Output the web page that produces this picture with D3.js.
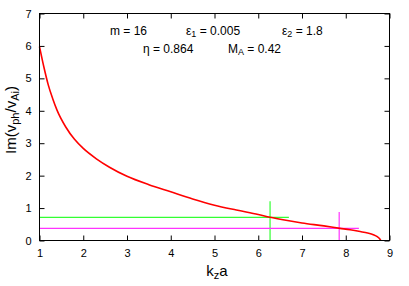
<!DOCTYPE html>
<meta charset="utf-8">
<script src="https://d3js.org/d3.v7.min.js"></script>
<style>
  body { margin: 0; background: #fff; }
  text { font-family: "Liberation Sans", Arial, sans-serif; }
</style>
<div id="vis"></div>
<script>

// red curve, Im(v_ph/v_Ai) vs k_z a
var kza = [1.0, 1.1, 1.2, 1.3, 1.4, 1.6, 1.8, 2.0, 2.3, 2.6, 3.0, 3.5, 4.0, 4.5, 5.0, 5.5, 6.0, 6.27, 6.6, 7.0, 7.5, 7.87, 8.1, 8.33, 8.5, 8.63, 8.72, 8.77, 8.80];
var imv = [5.98, 5.35, 4.8, 4.38, 4.02, 3.5, 3.12, 2.84, 2.52, 2.26, 1.98, 1.72, 1.50, 1.28, 1.09, 0.94, 0.80, 0.716, 0.63, 0.54, 0.45, 0.375, 0.33, 0.275, 0.23, 0.18, 0.12, 0.06, 0.0];

// green and magenta markers
var greenMark = {x: 6.27, y: 0.715, xEnd: 6.70, yTop: 1.21};
var magentaMark = {x: 7.85, y: 0.375, xEnd: 8.30, yTop: 0.88};

var xTicks = [1, 2, 3, 4, 5, 6, 7, 8, 9];
var yTicks = [0, 1, 2, 3, 4, 5, 6, 7];

var margin = {top: 13.5, right: 19.5, bottom: 45.5, left: 39.5},
    width = 409 - margin.left - margin.right,
    height = 286 - margin.top - margin.bottom;

var root = d3.select("#vis")
  .append("svg")
    .attr("width", 409)
    .attr("height", 286);

var svg = root.append("g")
    .attr("transform", "translate(" + margin.left + "," + margin.top + ")");

var x = d3.scaleLinear().domain([1, 9]).range([0, width]);
var y = d3.scaleLinear().domain([0, 7]).range([height, 0]);

// ticks, inward and mirrored
var tl = 5;
svg.append("g")
  .attr("transform", "translate(0," + height + ")")
  .call(d3.axisBottom(x).tickValues(xTicks).tickFormat(d3.format("d")).tickSize(-tl).tickPadding(9).tickSizeOuter(0))
  .call(g => g.select(".domain").remove());
svg.append("g")
  .call(d3.axisTop(x).tickValues(xTicks).tickSize(-tl).tickFormat("").tickSizeOuter(0))
  .call(g => g.select(".domain").remove());
svg.append("g")
  .call(d3.axisLeft(y).tickValues(yTicks).tickFormat(d3.format("d")).tickSize(-tl).tickPadding(8).tickSizeOuter(0))
  .call(g => g.select(".domain").remove());
svg.append("g")
  .attr("transform", "translate(" + width + ",0)")
  .call(d3.axisRight(y).tickValues(yTicks).tickSize(-tl).tickFormat("").tickSizeOuter(0))
  .call(g => g.select(".domain").remove());

svg.selectAll(".tick text")
  .attr("font-family", "Liberation Sans, Arial, sans-serif")
  .attr("font-size", 11)
  .attr("fill", "#000");
svg.selectAll(".tick line").attr("stroke", "#000");

// markers
[[greenMark, "#33ff33"], [magentaMark, "#ff33ff"]].forEach(function(m) {
  svg.append("line")
    .attr("x1", x(1)).attr("x2", x(m[0].xEnd))
    .attr("y1", y(m[0].y)).attr("y2", y(m[0].y))
    .attr("stroke", m[1]).attr("stroke-width", 1.2);
  svg.append("line")
    .attr("x1", x(m[0].x)).attr("x2", x(m[0].x))
    .attr("y1", y(0)).attr("y2", y(m[0].yTop))
    .attr("stroke", m[1]).attr("stroke-width", 1.2);
});

// curve
var pts = kza.map((k, i) => [k, imv[i]]);
svg.append("path")
  .datum(pts)
  .attr("fill", "none")
  .attr("stroke", "#ff0000")
  .attr("stroke-width", 1.6)
  .attr("d", d3.line()
    .x(d => x(d[0]))
    .y(d => y(d[1]))
    .curve(d3.curveMonotoneX));

// frame
svg.append("rect")
  .attr("width", width).attr("height", height)
  .attr("fill", "none").attr("stroke", "#000").attr("stroke-width", 1);

// parameter labels
var lab = root.append("g").attr("font-size", 12).attr("fill", "#000");
function sub(t, parts) {
  parts.forEach(function(p) {
    var s = t.append("tspan").text(p[0]);
    if (p[1]) s.attr("baseline-shift", "-25%").attr("font-size", 9);
  });
}
sub(lab.append("text").attr("x", 110).attr("y", 35), [["m = 16"]]);
sub(lab.append("text").attr("x", 186).attr("y", 35), [["ε"], ["1", true], [" = 0.005"]]);
sub(lab.append("text").attr("x", 282).attr("y", 35), [["ε"], ["2", true], [" = 1.8"]]);
sub(lab.append("text").attr("x", 143).attr("y", 53), [["η = 0.864"]]);
sub(lab.append("text").attr("x", 228).attr("y", 53), [["M"], ["A", true], [" = 0.42"]]);

// axis titles
var xl = root.append("text")
  .attr("x", 217).attr("y", 276)
  .attr("text-anchor", "middle").attr("font-size", 15);
sub(xl, [["k"], ["z", true], ["a"]]);
xl.selectAll("tspan").filter((d, i) => i === 1).attr("font-size", 11);

var yl = root.append("text")
  .attr("transform", "translate(16,120) rotate(-90)")
  .attr("text-anchor", "middle").attr("font-size", 15);
sub(yl, [["Im(v"], ["ph", true], ["/v"], ["Ai", true], [")"]]);
yl.selectAll("tspan").filter((d, i) => i === 1 || i === 3).attr("font-size", 11);

</script>
